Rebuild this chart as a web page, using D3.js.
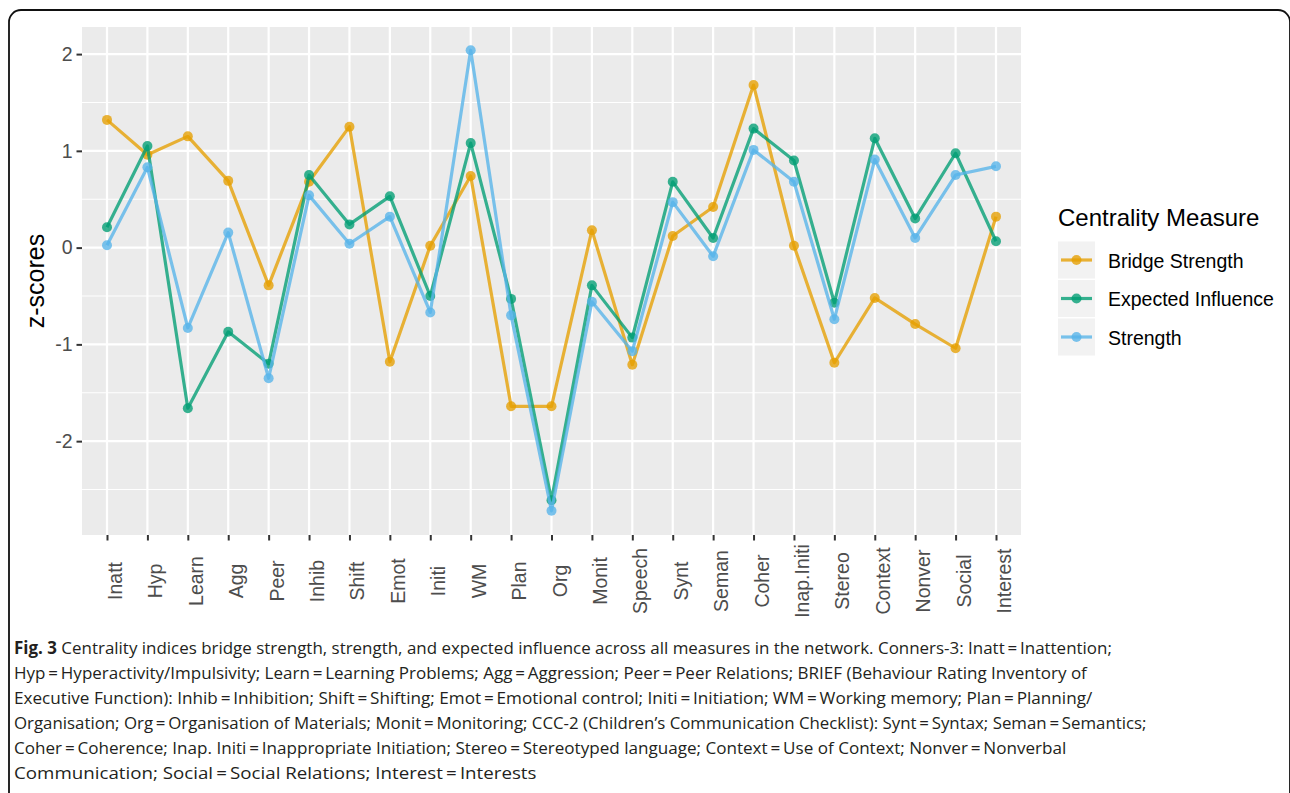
<!DOCTYPE html>
<html>
<head>
<meta charset="utf-8">
<script src="https://cdn.jsdelivr.net/npm/d3@7"></script>
<style>
  html, body { margin: 0; padding: 0; background: #ffffff; }
  svg { display: block; }
</style>
</head>
<body>
<svg id="chart" width="1290" height="793"></svg>
<script>
// ---------------- DATA ----------------
const categories = ["Inatt","Hyp","Learn","Agg","Peer","Inhib","Shift","Emot","Initi","WM","Plan","Org","Monit","Speech","Synt","Seman","Coher","Inap.Initi","Stereo","Context","Nonver","Social","Interest"];
const bridgeStrength = [1.32,0.96,1.15,0.69,-0.39,0.68,1.25,-1.18,0.02,0.74,-1.64,-1.64,0.18,-1.21,0.12,0.42,1.68,0.02,-1.19,-0.52,-0.79,-1.04,0.32];
const expectedInfluence = [0.21,1.05,-1.66,-0.87,-1.20,0.75,0.24,0.53,-0.50,1.08,-0.53,-2.61,-0.39,-0.93,0.68,0.10,1.23,0.90,-0.57,1.13,0.30,0.975,0.066];
const strength = [0.025,0.83,-0.83,0.155,-1.35,0.54,0.04,0.32,-0.67,2.04,-0.70,-2.72,-0.56,-1.07,0.47,-0.09,1.01,0.68,-0.74,0.91,0.10,0.75,0.84];
const seriesNames = ["Bridge Strength","Expected Influence","Strength"];
const seriesColors = ["#E69F00","#009E73","#56B4E9"];
const yTicks = [-2,-1,0,1,2];
const yMinorTicks = [-2.5,-1.5,-0.5,0.5,1.5];
const legendTitle = "Centrality Measure";
const yAxisTitle = "z-scores";
const captionLines = [
  [["Fig. 3", true], [" Centrality indices bridge strength, strength, and expected influence across all measures in the network. Conners-3: Inatt\u2009=\u2009Inattention;", false]],
  [["Hyp\u2009=\u2009Hyperactivity/Impulsivity; Learn\u2009=\u2009Learning Problems; Agg\u2009=\u2009Aggression; Peer\u2009=\u2009Peer Relations; BRIEF (Behaviour Rating Inventory of", false]],
  [["Executive Function): Inhib\u2009=\u2009Inhibition; Shift\u2009=\u2009Shifting; Emot\u2009=\u2009Emotional control; Initi\u2009=\u2009Initiation; WM\u2009=\u2009Working memory; Plan\u2009=\u2009Planning/", false]],
  [["Organisation; Org\u2009=\u2009Organisation of Materials; Monit\u2009=\u2009Monitoring; CCC-2 (Children\u2019s Communication Checklist): Synt\u2009=\u2009Syntax; Seman\u2009=\u2009Semantics;", false]],
  [["Coher\u2009=\u2009Coherence; Inap. Initi\u2009=\u2009Inappropriate Initiation; Stereo\u2009=\u2009Stereotyped language; Context\u2009=\u2009Use of Context; Nonver\u2009=\u2009Nonverbal", false]],
  [["Communication; Social\u2009=\u2009Social Relations; Interest\u2009=\u2009Interests", false]]
];
const captionLineEnds = [1112, 1087, 1093, 1148, 1067, 537];

// ---------------- LAYOUT ----------------
const svg = d3.select("#chart");
const panel = {left: 82, right: 1021, top: 27, bottom: 535};

// frame
svg.append("rect")
  .attr("x", 9).attr("y", 10).attr("width", 1281).attr("height", 820)
  .attr("rx", 12).attr("ry", 12)
  .attr("fill", "none").attr("stroke", "#111").attr("stroke-width", 1.8);

const x = d3.scalePoint().domain(categories)
  .range([107, 996]);
const y = d3.scaleLinear().domain([-2.97, 2.28]).range([panel.bottom, panel.top]);

// panel background
svg.append("rect")
  .attr("x", panel.left).attr("y", panel.top)
  .attr("width", panel.right - panel.left).attr("height", panel.bottom - panel.top)
  .attr("fill", "#EBEBEB");

const grid = svg.append("g");
grid.selectAll("line.minor").data(yMinorTicks).enter().append("line")
  .attr("x1", panel.left).attr("x2", panel.right)
  .attr("y1", d => y(d)).attr("y2", d => y(d))
  .attr("stroke", "#fff").attr("stroke-width", 1.1);
grid.selectAll("line.majory").data(yTicks).enter().append("line")
  .attr("x1", panel.left).attr("x2", panel.right)
  .attr("y1", d => y(d)).attr("y2", d => y(d))
  .attr("stroke", "#fff").attr("stroke-width", 2.2);
grid.selectAll("line.majorx").data(categories).enter().append("line")
  .attr("y1", panel.top).attr("y2", panel.bottom)
  .attr("x1", d => x(d)).attr("x2", d => x(d))
  .attr("stroke", "#fff").attr("stroke-width", 2.2);

// y axis
const yAxis = d3.axisLeft(y).tickValues(yTicks).tickSize(5.5).tickPadding(4)
  .tickFormat(d => d < 0 ? "-" + Math.abs(d) : String(d));
const gy = svg.append("g").attr("transform", `translate(${panel.left},0)`).call(yAxis);
gy.select(".domain").remove();
gy.selectAll(".tick line").attr("stroke", "#333").attr("stroke-width", 2);
gy.selectAll(".tick text")
  .attr("font-family", "'Liberation Sans', Arial, sans-serif")
  .attr("font-size", 19.5).attr("fill", "#4D4D4D");

// x axis
const xAxis = d3.axisBottom(x).tickSize(5.5).tickFormat("");
const gx = svg.append("g").attr("transform", `translate(0,${panel.bottom})`).call(xAxis);
gx.select(".domain").remove();
gx.selectAll(".tick line").attr("stroke", "#333").attr("stroke-width", 2);
svg.append("g").selectAll("text").data(categories).enter().append("text")
  .attr("transform", d => `translate(${x(d) + 15},581) rotate(-90)`)
  .attr("text-anchor", "middle")
  .attr("font-family", "'Liberation Sans', Arial, sans-serif")
  .attr("font-size", 19.5).attr("fill", "#4D4D4D")
  .text(d => d);

// y title
svg.append("text")
  .attr("transform", "translate(44,281) rotate(-90)")
  .attr("text-anchor", "middle")
  .attr("font-family", "'Liberation Sans', Arial, sans-serif")
  .attr("font-size", 25).attr("fill", "#000")
  .text(yAxisTitle);

// series
const allSeries = [bridgeStrength, expectedInfluence, strength];
const line = d3.line().x((d, i) => x(categories[i])).y(d => y(d));
allSeries.forEach((vals, si) => {
  const g = svg.append("g");
  g.append("path").datum(vals)
    .attr("d", line)
    .attr("fill", "none")
    .attr("stroke", seriesColors[si])
    .attr("stroke-width", 3.2)
    .attr("stroke-linejoin", "round")
    .attr("opacity", 0.78);
  g.selectAll("circle").data(vals).enter().append("circle")
    .attr("cx", (d, i) => x(categories[i]))
    .attr("cy", d => y(d))
    .attr("r", 5)
    .attr("fill", seriesColors[si])
    .attr("opacity", 0.78);
});

// legend
const lg = svg.append("g");
lg.append("text")
  .attr("x", 1058).attr("y", 226)
  .attr("font-family", "'Liberation Sans', Arial, sans-serif")
  .attr("font-size", 24).attr("fill", "#000")
  .text(legendTitle);
const keyTops = [241.5, 280, 318.5];
seriesNames.forEach((name, i) => {
  const top = keyTops[i];
  const cy = top + 18.5;
  lg.append("rect").attr("x", 1058).attr("y", top).attr("width", 37).attr("height", 37)
    .attr("fill", "#F2F2F2");
  lg.append("line").attr("x1", 1061).attr("x2", 1092).attr("y1", cy).attr("y2", cy)
    .attr("stroke", seriesColors[i]).attr("stroke-width", 3.2).attr("opacity", 0.78);
  lg.append("circle").attr("cx", 1076.5).attr("cy", cy).attr("r", 5)
    .attr("fill", seriesColors[i]).attr("opacity", 0.78);
  lg.append("text").attr("x", 1108).attr("y", cy + 7.5)
    .attr("font-family", "'Liberation Sans', Arial, sans-serif")
    .attr("font-size", 19.5).attr("fill", "#000")
    .text(name);
});

// caption
const capX = 14;
const capBaselines = [654, 679, 704, 729, 754, 779];
captionLines.forEach((parts, li) => {
  const t = svg.append("text")
    .attr("x", capX).attr("y", capBaselines[li])
    .attr("font-family", "'Open Sans', 'Noto Sans', sans-serif")
    .attr("font-size", 17).attr("fill", "#231F20");
  parts.forEach(([txt, bold]) => {
    t.append("tspan").attr("font-weight", bold ? 700 : 400).text(txt);
  });
  const w = t.node().getComputedTextLength();
  const target = captionLineEnds[li] - capX;
  const sx = target / w;
  t.attr("transform", `translate(${capX},0) scale(${sx},1) translate(${-capX},0)`);
});
</script>
</body>
</html>
